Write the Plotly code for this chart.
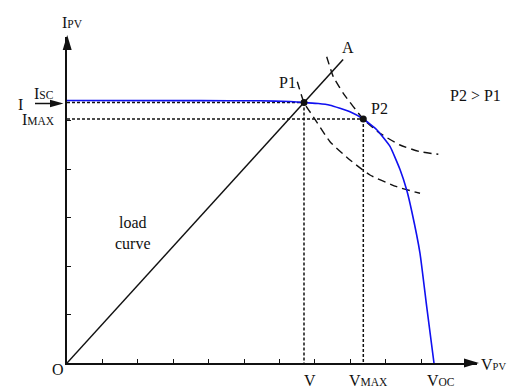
import plotly.graph_objects as go

# ---- PV characteristic data (x in voltage tick units, y in current tick units) ----
pv_v = [0.0, 3.757, 5.452, 6.299, 6.695, 7.100, 7.429, 7.994, 8.370, 8.749,
        9.124, 9.407, 9.596, 9.737, 9.972, 10.161, 10.367]
pv_i = [5.412, 5.410, 5.406, 5.392, 5.370, 5.350, 5.315, 5.181, 5.031, 4.810,
        4.465, 3.990, 3.567, 3.134, 2.262, 1.161, 0.0]

# load line from the origin towards point A
load_v = [0.0, 7.80]
load_i = [0.0, 6.26]

# constant-power curves through P1 and P2
pow1_v = [6.506, 6.695, 6.958, 7.429, 7.994, 8.559, 9.314, 9.972]
pow1_i = [5.800, 5.370, 5.078, 4.563, 4.186, 3.876, 3.635, 3.499]
pow2_v = [7.336, 7.523, 7.805, 8.370, 8.842, 9.407, 9.972, 10.489]
pow2_i = [6.315, 5.903, 5.561, 5.031, 4.736, 4.495, 4.357, 4.303]

# operating points
op_names = ["P1", "P2"]
op_v = [6.695, 8.370]
op_i = [5.370, 5.031]

x_ticks = [1, 2, 3, 4, 5, 6, 7, 8, 9, 10]
y_ticks = [1, 2, 3, 4, 5]

# ---- frame geometry ----
W, H = 507, 390
ML, MR, MT, MB = 67, 30, 37, 27
PW, PH = W - ML - MR, H - MT - MB
X_MAX = PW / 35.4
Y_MAX = PH / 48.5

FONT = "Liberation Serif"
INK = "#111111"


def px(x):
    return (x - ML) / PW


def py(y):
    return (H - MB - y) / PH


fig = go.Figure()

dot_line = dict(color=INK, width=1.5, dash="3px,2px")
# dotted guides from the operating points to both axes
for v, i in zip(op_v, op_i):
    fig.add_trace(go.Scatter(x=[0, v], y=[i, i], mode="lines", line=dot_line,
                             hoverinfo="skip"))
    fig.add_trace(go.Scatter(x=[v, v], y=[i, 0], mode="lines", line=dot_line,
                             hoverinfo="skip"))

# constant power hyperbolas
for xv, yv in ((pow1_v, pow1_i), (pow2_v, pow2_i)):
    fig.add_trace(go.Scatter(x=xv, y=yv, mode="lines",
                             line=dict(color=INK, width=1.4, dash="8px,5px",
                                       shape="spline", smoothing=0.5),
                             hoverinfo="skip"))

# load line
fig.add_trace(go.Scatter(x=load_v, y=load_i, mode="lines",
                         line=dict(color=INK, width=1.5), hoverinfo="skip"))

# PV I-V curve
fig.add_trace(go.Scatter(x=pv_v, y=pv_i, mode="lines",
                         line=dict(color="#1010f0", width=1.6, shape="spline",
                                   smoothing=0.4),
                         hoverinfo="skip"))

# operating points
fig.add_trace(go.Scatter(x=op_v, y=op_i, mode="markers",
                         marker=dict(color=INK, size=7), hoverinfo="skip"))

axis_common = dict(showline=True, linecolor=INK, linewidth=1.5, ticks="inside",
                   ticklen=4, tickwidth=1, tickcolor=INK, showticklabels=False,
                   showgrid=False, zeroline=False, fixedrange=True)

fig.update_layout(
    width=W, height=H,
    margin=dict(l=ML, r=MR, t=MT, b=MB, pad=0),
    paper_bgcolor="white", plot_bgcolor="white",
    showlegend=False,
    xaxis=dict(range=[0, X_MAX], tickvals=x_ticks, **axis_common),
    yaxis=dict(range=[0, Y_MAX], tickvals=y_ticks, **axis_common),
)

# axis arrowheads and the current pointer
shapes = [
    dict(type="path", xref="paper", yref="paper", fillcolor=INK, line=dict(width=0),
         path=f"M {px(479)},{py(363)} L {px(464)},{py(358.5)} L {px(464)},{py(367.5)} Z"),
    dict(type="path", xref="paper", yref="paper", fillcolor=INK, line=dict(width=0),
         path=f"M {px(67.2)},{py(35)} L {px(62.7)},{py(50)} L {px(71.7)},{py(50)} Z"),
    dict(type="line", xref="paper", yref="paper", x0=px(35), y0=py(103.5),
         x1=px(52), y1=py(103.5), line=dict(color=INK, width=1.5)),
    dict(type="path", xref="paper", yref="paper", fillcolor=INK, line=dict(width=0),
         path=f"M {px(63.5)},{py(103.5)} L {px(50)},{py(99.8)} L {px(50)},{py(107.2)} Z"),
]
fig.update_layout(shapes=shapes)


def sc(big, small, small_size=11.5):
    return f"{big}<span style='font-size:{small_size}px'>{small}</span>"


labels = [
    (sc("I", "PV"), 60, 22, "left"),
    (sc("I", "SC"), 32, 93, "left"),
    ("I", 20.5, 104.5, "center"),
    (sc("I", "MAX"), 19.5, 120, "left"),
    ("O", 57.5, 369.5, "center"),
    ("V", 310, 380, "center"),
    (sc("V", "MAX"), 346.5, 380, "left"),
    (sc("V", "OC"), 425, 380, "left"),
    (sc("V", "PV", 10.5), 479, 364, "left"),
    ("A", 347.5, 47.5, "center"),
    (op_names[0], 287.5, 83, "center"),
    (op_names[1], 379, 109, "center"),
    (f"{op_names[1]} &gt; {op_names[0]}", 475.5, 96, "center"),
    ("load<br>curve", 133, 232.5, "center"),
]
for text, x, y, anchor in labels:
    fig.add_annotation(text=text, xref="paper", yref="paper", x=px(x), y=py(y),
                       xanchor=anchor, yanchor="middle", showarrow=False,
                       font=dict(family=FONT, size=16, color=INK))

fig.write_html("out.html")
